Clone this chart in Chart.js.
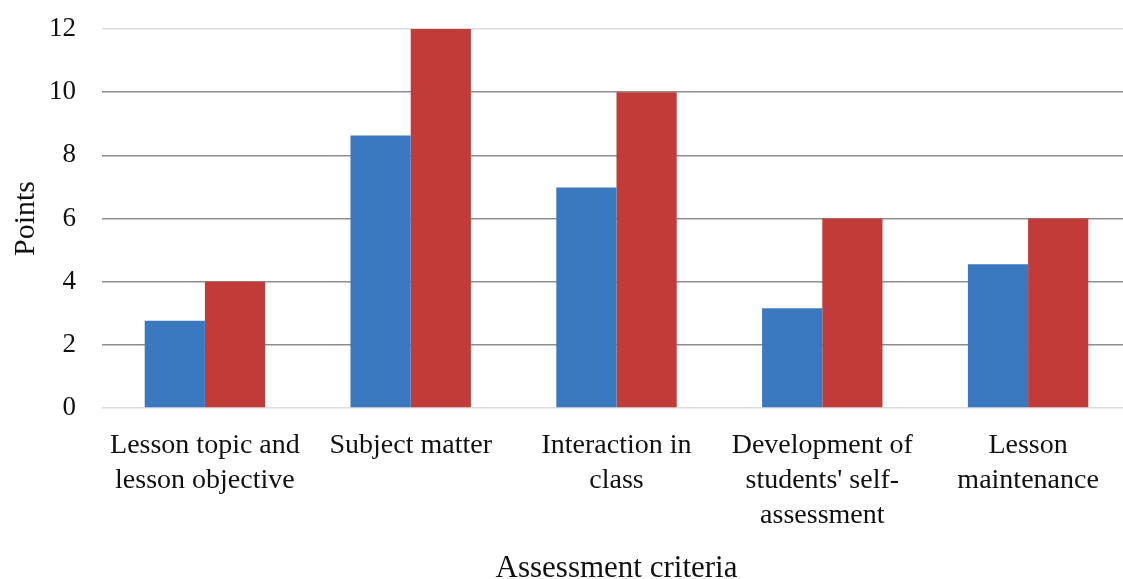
<!DOCTYPE html>
<html>
<head>
<meta charset="utf-8">
<script src="https://cdn.jsdelivr.net/npm/chart.js@4/dist/chart.umd.min.js"></script>
<style>
  html, body { margin: 0; padding: 0; background: #fff; overflow: hidden; }
  #wrap { width: 1131px; height: 579px; }
</style>
</head>
<body>
<div id="wrap"><canvas id="chart"></canvas></div>
<script>
const categories = [
  ['Lesson topic and', 'lesson objective'],
  ['Subject matter'],
  ['Interaction in', 'class'],
  ['Development of', "students' self-", 'assessment'],
  ['Lesson', 'maintenance']
];
const obtained = [2.76, 8.63, 6.98, 3.16, 4.55];
const maximum = [4, 12, 10, 6, 6];
const yTicks = [0, 2, 4, 6, 8, 10, 12];

const serif = "'Liberation Serif', 'Times New Roman', serif";

new Chart(document.getElementById('chart'), {
  type: 'bar',
  data: {
    labels: categories,
    datasets: [
      { label: 'Obtained', data: obtained, backgroundColor: '#3a78c0' },
      { label: 'Maximum', data: maximum, backgroundColor: '#c13b38' }
    ]
  },
  options: {
    responsive: true,
    maintainAspectRatio: false,
    animation: false,
    layout: { padding: { top: 4, right: 0, left: 8, bottom: -5 } },
    plugins: { legend: { display: false }, tooltip: { enabled: false } },
    datasets: { bar: { categoryPercentage: 0.585, barPercentage: 1 } },
    scales: {
      x: {
        grid: { display: false },
        border: { display: false },
        ticks: {
          color: '#111',
          maxRotation: 0,
          padding: 12,
          font: { family: serif, size: 28, lineHeight: 1.25 }
        },
        title: {
          display: true,
          text: 'Assessment criteria',
          color: '#111',
          padding: { top: 8, bottom: 0 },
          font: { family: serif, size: 31, lineHeight: 1 }
        }
      },
      y: {
        min: 0,
        max: 12,
        afterBuildTicks: axis => { axis.ticks = yTicks.map(v => ({ value: v })); },
        afterFit: axis => { axis.width = 94; axis.paddingTop = 29; },
        grid: {
          drawTicks: false,
          lineWidth: 1.5,
          color: ctx => (ctx.tick && (ctx.tick.value === 0 || ctx.tick.value === 12)) ? '#dcdcdc' : '#8e8e8e'
        },
        border: { display: false },
        ticks: {
          color: '#111',
          padding: 26,
          font: { family: serif, size: 27 }
        },
        title: {
          display: true,
          text: 'Points',
          color: '#111',
          padding: { top: 0, bottom: 0 },
          font: { family: serif, size: 30 }
        }
      }
    }
  }
});
</script>
</body>
</html>
